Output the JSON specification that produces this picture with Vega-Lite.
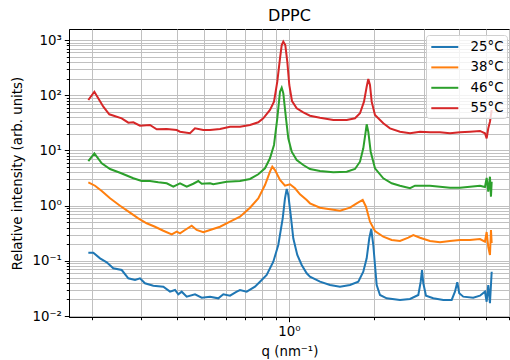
{
  "$schema": "https://vega.github.io/schema/vega-lite/v6.json",
  "width": 441,
  "height": 288,
  "autosize": {"type": "none"},
  "padding": {"left": 69, "top": 29, "right": 0, "bottom": 43},
  "title": {"text": "DPPC", "fontSize": 16, "font": "DejaVu Sans", "fontWeight": "normal", "color": "black", "offset": 5, "anchor": "middle"},
  "config": {"view": {"stroke": "black", "strokeWidth": 1}, "font": "DejaVu Sans"},
  "data": {"values": [
    {"T":"25°C","q":0.1947,"I":0.1408},{"T":"25°C","q":0.2028,"I":0.1408},{"T":"25°C","q":0.2142,"I":0.1114},{"T":"25°C","q":0.2262,"I":0.0943},{"T":"25°C","q":0.2386,"I":0.0734},{"T":"25°C","q":0.2556,"I":0.0684},{"T":"25°C","q":0.2698,"I":0.0484},{"T":"25°C","q":0.2849,"I":0.0451},{"T":"25°C","q":0.2967,"I":0.0484},{"T":"25°C","q":0.3090,"I":0.0393},{"T":"25°C","q":0.3307,"I":0.0355},{"T":"25°C","q":0.3589,"I":0.0341},{"T":"25°C","q":0.3790,"I":0.0277},{"T":"25°C","q":0.3948,"I":0.0297},{"T":"25°C","q":0.4055,"I":0.0248},{"T":"25°C","q":0.4169,"I":0.0277},{"T":"25°C","q":0.4343,"I":0.0225},{"T":"25°C","q":0.4646,"I":0.0248},{"T":"25°C","q":0.4908,"I":0.0215},{"T":"25°C","q":0.5253,"I":0.0225},{"T":"25°C","q":0.5619,"I":0.0210},{"T":"25°C","q":0.5853,"I":0.0248},{"T":"25°C","q":0.6182,"I":0.0234},{"T":"25°C","q":0.6529,"I":0.0277},{"T":"25°C","q":0.6707,"I":0.0297},{"T":"25°C","q":0.7083,"I":0.0277},{"T":"25°C","q":0.7577,"I":0.0341},{"T":"25°C","q":0.7893,"I":0.0420},{"T":"25°C","q":0.8337,"I":0.0555},{"T":"25°C","q":0.8799,"I":0.0967},{"T":"25°C","q":0.9164,"I":0.194},{"T":"25°C","q":0.9500,"I":0.591},{"T":"25°C","q":0.9678,"I":1.36},{"T":"25°C","q":0.9815,"I":2.01},{"T":"25°C","q":0.9943,"I":1.56},{"T":"25°C","q":1.0140,"I":0.679},{"T":"25°C","q":1.0356,"I":0.257},{"T":"25°C","q":1.0700,"I":0.128},{"T":"25°C","q":1.1090,"I":0.0843},{"T":"25°C","q":1.1553,"I":0.0596},{"T":"25°C","q":1.1866,"I":0.0517},{"T":"25°C","q":1.2876,"I":0.0420},{"T":"25°C","q":1.3972,"I":0.0366},{"T":"25°C","q":1.5154,"I":0.0341},{"T":"25°C","q":1.6444,"I":0.0366},{"T":"25°C","q":1.7597,"I":0.0420},{"T":"25°C","q":1.8328,"I":0.0637},{"T":"25°C","q":1.8841,"I":0.1114},{"T":"25°C","q":1.9245,"I":0.257},{"T":"25°C","q":1.9562,"I":0.378},{"T":"25°C","q":1.9884,"I":0.194},{"T":"25°C","q":2.0444,"I":0.0366},{"T":"25°C","q":2.1002,"I":0.0241},{"T":"25°C","q":2.2182,"I":0.0210},{"T":"25°C","q":2.4720,"I":0.0196},{"T":"25°C","q":2.6827,"I":0.0204},{"T":"25°C","q":2.8706,"I":0.0241},{"T":"25°C","q":2.9273,"I":0.0420},{"T":"25°C","q":2.9585,"I":0.0684},{"T":"25°C","q":2.9900,"I":0.0393},{"T":"25°C","q":3.0561,"I":0.0234},{"T":"25°C","q":3.2434,"I":0.0210},{"T":"25°C","q":3.5189,"I":0.0196},{"T":"25°C","q":3.7681,"I":0.0196},{"T":"25°C","q":3.8708,"I":0.0277},{"T":"25°C","q":3.9445,"I":0.0410},{"T":"25°C","q":4.0087,"I":0.0259},{"T":"25°C","q":4.1418,"I":0.0225},{"T":"25°C","q":4.4939,"I":0.0215},{"T":"25°C","q":4.7459,"I":0.0234},{"T":"25°C","q":4.9431,"I":0.0277},{"T":"25°C","q":5.0119,"I":0.0182},{"T":"25°C","q":5.0781,"I":0.0366},{"T":"25°C","q":5.1489,"I":0.0171},{"T":"25°C","q":5.2218,"I":0.0637},
    {"T":"38°C","q":0.1947,"I":2.65},{"T":"38°C","q":0.2056,"I":2.30},{"T":"38°C","q":0.2172,"I":1.85},{"T":"38°C","q":0.2324,"I":1.36},{"T":"38°C","q":0.2521,"I":1.00},{"T":"38°C","q":0.2735,"I":0.747},{"T":"38°C","q":0.2926,"I":0.591},{"T":"38°C","q":0.3133,"I":0.480},{"T":"38°C","q":0.3353,"I":0.416},{"T":"38°C","q":0.3589,"I":0.352},{"T":"38°C","q":0.3843,"I":0.303},{"T":"38°C","q":0.4003,"I":0.338},{"T":"38°C","q":0.4112,"I":0.316},{"T":"38°C","q":0.4283,"I":0.363},{"T":"38°C","q":0.4523,"I":0.434},{"T":"38°C","q":0.4711,"I":0.363},{"T":"38°C","q":0.4972,"I":0.330},{"T":"38°C","q":0.5253,"I":0.363},{"T":"38°C","q":0.5698,"I":0.416},{"T":"38°C","q":0.6182,"I":0.513},{"T":"38°C","q":0.6707,"I":0.632},{"T":"38°C","q":0.7276,"I":0.920},{"T":"38°C","q":0.7784,"I":1.36},{"T":"38°C","q":0.8222,"I":2.37},{"T":"38°C","q":0.8564,"I":4.13},{"T":"38°C","q":0.8727,"I":5.09},{"T":"38°C","q":0.8921,"I":4.43},{"T":"38°C","q":0.9293,"I":2.92},{"T":"38°C","q":0.9678,"I":2.30},{"T":"38°C","q":1.0082,"I":2.44},{"T":"38°C","q":1.0501,"I":2.07},{"T":"38°C","q":1.0939,"I":1.61},{"T":"38°C","q":1.1553,"I":1.27},{"T":"38°C","q":1.1866,"I":1.105},{"T":"38°C","q":1.2876,"I":0.920},{"T":"38°C","q":1.3972,"I":0.861},{"T":"38°C","q":1.5154,"I":0.812},{"T":"38°C","q":1.6444,"I":0.920},{"T":"38°C","q":1.7368,"I":1.105},{"T":"38°C","q":1.8239,"I":1.27},{"T":"38°C","q":1.8737,"I":0.959},{"T":"38°C","q":1.9356,"I":0.513},{"T":"38°C","q":2.0162,"I":0.348},{"T":"38°C","q":2.1576,"I":0.274},{"T":"38°C","q":2.3105,"I":0.239},{"T":"38°C","q":2.4720,"I":0.229},{"T":"38°C","q":2.6460,"I":0.263},{"T":"38°C","q":2.7559,"I":0.294},{"T":"38°C","q":2.9105,"I":0.263},{"T":"38°C","q":3.1572,"I":0.229},{"T":"38°C","q":3.4254,"I":0.217},{"T":"38°C","q":3.7163,"I":0.229},{"T":"38°C","q":4.0318,"I":0.239},{"T":"38°C","q":4.3752,"I":0.239},{"T":"38°C","q":4.7459,"I":0.249},{"T":"38°C","q":4.9431,"I":0.223},{"T":"38°C","q":5.0119,"I":0.334},{"T":"38°C","q":5.0781,"I":0.179},{"T":"38°C","q":5.1489,"I":0.128},{"T":"38°C","q":5.1917,"I":0.363},{"T":"38°C","q":5.2218,"I":0.211},
    {"T":"46°C","q":0.1947,"I":6.45},{"T":"46°C","q":0.2045,"I":8.90},{"T":"46°C","q":0.2172,"I":5.86},{"T":"46°C","q":0.2324,"I":4.62},{"T":"46°C","q":0.2521,"I":3.96},{"T":"46°C","q":0.2810,"I":3.14},{"T":"46°C","q":0.3008,"I":2.80},{"T":"46°C","q":0.3218,"I":2.80},{"T":"46°C","q":0.3445,"I":2.65},{"T":"46°C","q":0.3689,"I":2.55},{"T":"46°C","q":0.3894,"I":2.21},{"T":"46°C","q":0.4112,"I":2.55},{"T":"46°C","q":0.4343,"I":2.21},{"T":"46°C","q":0.4582,"I":2.50},{"T":"46°C","q":0.4773,"I":2.80},{"T":"46°C","q":0.4908,"I":2.50},{"T":"46°C","q":0.5253,"I":2.55},{"T":"46°C","q":0.5395,"I":2.44},{"T":"46°C","q":0.6018,"I":2.72},{"T":"46°C","q":0.6707,"I":2.80},{"T":"46°C","q":0.7276,"I":3.05},{"T":"46°C","q":0.7784,"I":3.71},{"T":"46°C","q":0.8222,"I":4.76},{"T":"46°C","q":0.8564,"I":7.22},{"T":"46°C","q":0.8849,"I":12.6},{"T":"46°C","q":0.9090,"I":38.3},{"T":"46°C","q":0.9293,"I":116.2},{"T":"46°C","q":0.9423,"I":137.3},{"T":"46°C","q":0.9546,"I":108.7},{"T":"46°C","q":0.9759,"I":38.3},{"T":"46°C","q":0.9943,"I":16.6},{"T":"46°C","q":1.0223,"I":9.51},{"T":"46°C","q":1.0648,"I":6.73},{"T":"46°C","q":1.1237,"I":5.46},{"T":"46°C","q":1.1866,"I":4.62},{"T":"46°C","q":1.2876,"I":4.25},{"T":"46°C","q":1.4354,"I":4.03},{"T":"46°C","q":1.6011,"I":4.13},{"T":"46°C","q":1.7130,"I":4.62},{"T":"46°C","q":1.7842,"I":6.27},{"T":"46°C","q":1.8328,"I":10.96},{"T":"46°C","q":1.8690,"I":21.9},{"T":"46°C","q":1.8841,"I":29.8},{"T":"46°C","q":1.9090,"I":21.9},{"T":"46°C","q":1.9468,"I":9.51},{"T":"46°C","q":2.0162,"I":4.76},{"T":"46°C","q":2.1576,"I":3.14},{"T":"46°C","q":2.3105,"I":2.55},{"T":"46°C","q":2.4720,"I":2.30},{"T":"46°C","q":2.6827,"I":2.07},{"T":"46°C","q":2.7943,"I":2.30},{"T":"46°C","q":3.1572,"I":2.30},{"T":"46°C","q":3.7163,"I":2.12},{"T":"46°C","q":4.0318,"I":2.12},{"T":"46°C","q":4.3752,"I":2.21},{"T":"46°C","q":4.7459,"I":2.30},{"T":"46°C","q":4.9431,"I":2.18},{"T":"46°C","q":5.0119,"I":3.18},{"T":"46°C","q":5.0781,"I":1.79},{"T":"46°C","q":5.1489,"I":3.35},{"T":"46°C","q":5.1917,"I":1.46},{"T":"46°C","q":5.2218,"I":2.72},
    {"T":"55°C","q":0.1947,"I":82.2},{"T":"55°C","q":0.2045,"I":116.2},{"T":"55°C","q":0.2200,"I":62.2},{"T":"55°C","q":0.2310,"I":45.3},{"T":"55°C","q":0.2556,"I":38.3},{"T":"55°C","q":0.2698,"I":31.9},{"T":"55°C","q":0.2810,"I":32.4},{"T":"55°C","q":0.2967,"I":28.1},{"T":"55°C","q":0.3218,"I":29.0},{"T":"55°C","q":0.3400,"I":24.2},{"T":"55°C","q":0.3689,"I":24.5},{"T":"55°C","q":0.4003,"I":23.5},{"T":"55°C","q":0.4112,"I":21.9},{"T":"55°C","q":0.4461,"I":20.5},{"T":"55°C","q":0.4646,"I":25.2},{"T":"55°C","q":0.4972,"I":23.5},{"T":"55°C","q":0.5253,"I":23.5},{"T":"55°C","q":0.5698,"I":24.5},{"T":"55°C","q":0.6182,"I":27.0},{"T":"55°C","q":0.6707,"I":27.0},{"T":"55°C","q":0.7276,"I":29.0},{"T":"55°C","q":0.7784,"I":32.4},{"T":"55°C","q":0.8108,"I":38.3},{"T":"55°C","q":0.8564,"I":54.2},{"T":"55°C","q":0.8849,"I":76.6},{"T":"55°C","q":0.9090,"I":176.4},{"T":"55°C","q":0.9293,"I":468},{"T":"55°C","q":0.9423,"I":815},{"T":"55°C","q":0.9546,"I":935},{"T":"55°C","q":0.9703,"I":815},{"T":"55°C","q":0.9862,"I":406},{"T":"55°C","q":1.0024,"I":153.7},{"T":"55°C","q":1.0247,"I":78.8},{"T":"55°C","q":1.0648,"I":58.2},{"T":"55°C","q":1.1237,"I":49.2},{"T":"55°C","q":1.1866,"I":42.7},{"T":"55°C","q":1.2876,"I":39.3},{"T":"55°C","q":1.4354,"I":35.7},{"T":"55°C","q":1.6011,"I":35.7},{"T":"55°C","q":1.7130,"I":38.3},{"T":"55°C","q":1.7842,"I":47.2},{"T":"55°C","q":1.8433,"I":76.6},{"T":"55°C","q":1.8841,"I":143.1},{"T":"55°C","q":1.9090,"I":197.4},{"T":"55°C","q":1.9356,"I":153.7},{"T":"55°C","q":1.9626,"I":76.6},{"T":"55°C","q":2.0162,"I":44.0},{"T":"55°C","q":2.1576,"I":31.1},{"T":"55°C","q":2.2784,"I":25.2},{"T":"55°C","q":2.4720,"I":21.9},{"T":"55°C","q":2.6827,"I":20.5},{"T":"55°C","q":2.9105,"I":21.9},{"T":"55°C","q":3.1572,"I":21.4},{"T":"55°C","q":3.4254,"I":21.4},{"T":"55°C","q":3.7163,"I":20.5},{"T":"55°C","q":4.0318,"I":21.4},{"T":"55°C","q":4.3752,"I":21.9},{"T":"55°C","q":4.7459,"I":22.6},{"T":"55°C","q":4.9431,"I":20.5},{"T":"55°C","q":5.0119,"I":16.6},{"T":"55°C","q":5.0781,"I":25.2},{"T":"55°C","q":5.1489,"I":33.2},{"T":"55°C","q":5.2218,"I":54.2}
  ]},
  "mark": {"type": "line", "strokeWidth": 2, "clip": true},
  "encoding": {
    "x": {"field": "q", "type": "quantitative",
      "scale": {"type": "log", "domain": [0.1663, 6.063], "nice": false},
      "axis": {"title": "q (nm⁻¹)", "values": [0.2,0.3,0.4,0.5,0.6,0.7,0.8,0.9,1,2,3,4,5,6],
        "labelExpr": "datum.value == 1 ? '10⁰' : ''",
        "grid": true, "gridColor": "#c0c0c0", "gridWidth": 1,
        "tickColor": "black", "domainColor": "black", "tickWidth": 1,
        "tickSize": {"condition": {"test": "datum.value == 1", "value": 4.7}, "value": 2.7},
        "labelFontSize": 13.3, "labelFont": "DejaVu Sans", "labelColor": "black", "labelPadding": 3, "labelOverlap": false, "labelFlush": false,
        "titleFontSize": 13.3, "titleFont": "DejaVu Sans", "titleFontWeight": "normal", "titleColor": "black", "titlePadding": 6}},
    "y": {"field": "I", "type": "quantitative",
      "scale": {"type": "log", "domain": [0.00963, 1589], "nice": false},
      "axis": {"title": "Relative intensity (arb. units)",
        "values": [0.01,0.02,0.03,0.04,0.05,0.06,0.07,0.08,0.09,0.1,0.2,0.3,0.4,0.5,0.6,0.7,0.8,0.9,1,2,3,4,5,6,7,8,9,10,20,30,40,50,60,70,80,90,100,200,300,400,500,600,700,800,900,1000],
        "labelExpr": "abs(log(datum.value)/LN10 - round(log(datum.value)/LN10)) < 0.001 ? '10' + ['⁻²','⁻¹','⁰','¹','²','³'][round(log(datum.value)/LN10) + 2] : ''",
        "grid": true, "gridColor": "#c0c0c0", "gridWidth": 1,
        "tickColor": "black", "domainColor": "black", "tickWidth": 1,
        "tickSize": {"condition": {"test": "abs(log(datum.value)/LN10 - round(log(datum.value)/LN10)) < 0.001", "value": 4.7}, "value": 2.7},
        "labelFontSize": 13.3, "labelFont": "DejaVu Sans", "labelColor": "black", "labelPadding": 3, "labelOverlap": false, "labelFlush": false,
        "titleFontSize": 13.3, "titleFont": "DejaVu Sans", "titleFontWeight": "normal", "titleColor": "black", "titlePadding": 8}},
    "color": {"field": "T", "type": "nominal",
      "scale": {"domain": ["25°C", "38°C", "46°C", "55°C"], "range": ["#1f77b4", "#ff7f0e", "#2ca02c", "#d62728"]},
      "legend": {"title": null, "orient": "none", "legendX": 357, "legendY": 6,
        "symbolType": "M-1.6875,0H1.6875", "symbolSize": 256, "symbolStrokeWidth": 2, "symbolOffset": 6.8,
        "labelFontSize": 13.3, "labelFont": "DejaVu Sans", "labelColor": "black", "labelOffset": 16.8,
        "padding": 3, "rowPadding": 4.4,
        "fillColor": "rgba(255,255,255,0.8)", "strokeColor": "#d0d0d0", "cornerRadius": 3}}
  }
}
